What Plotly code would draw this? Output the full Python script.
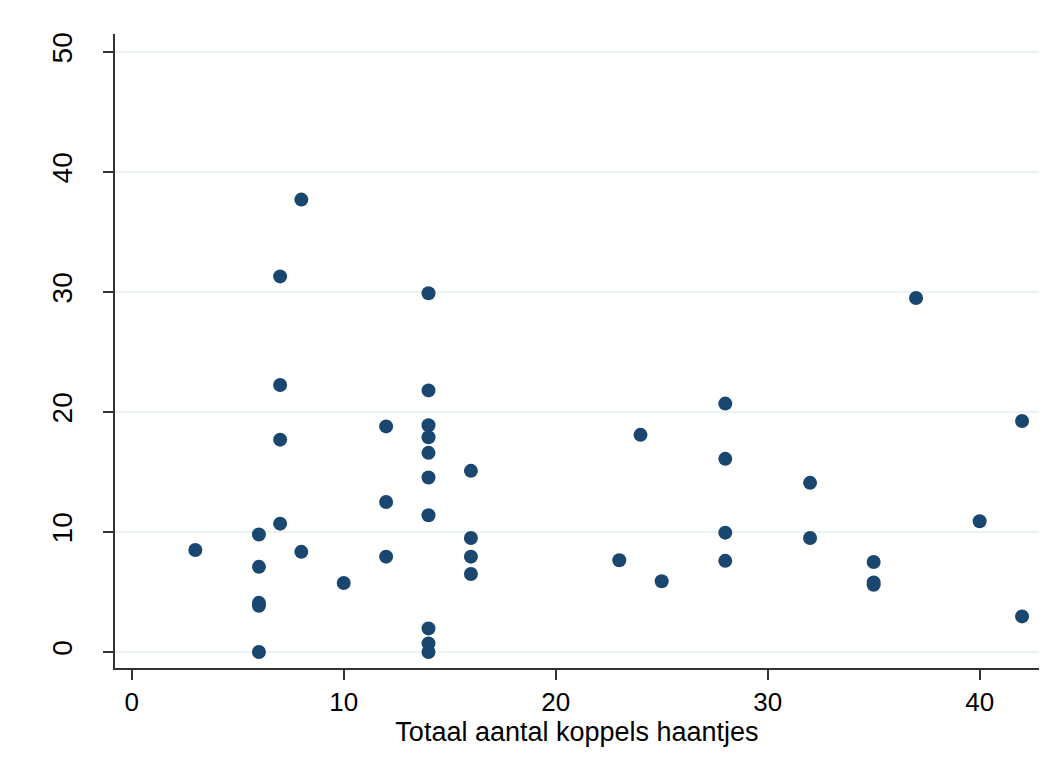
import plotly.graph_objects as go

# Data (x = Totaal aantal koppels haantjes)
x_vals = [3,
          6, 6, 6, 6, 6,
          7, 7, 7, 7,
          8, 8,
          10,
          12, 12, 12,
          14, 14, 14, 14, 14, 14, 14, 14, 14, 14,
          16, 16, 16, 16,
          23, 24, 25,
          28, 28, 28, 28,
          32, 32,
          35, 35, 35,
          37, 40,
          42, 42]
y_vals = [8.5,
          9.8, 7.1, 4.1, 3.85, 0.0,
          31.3, 22.25, 17.7, 10.7,
          37.7, 8.35,
          5.75,
          18.8, 12.5, 7.95,
          29.9, 21.8, 18.9, 17.9, 16.6, 14.55, 11.4, 1.97, 0.72, 0.0,
          15.1, 9.5, 7.95, 6.5,
          7.65, 18.1, 5.9,
          20.7, 16.1, 9.95, 7.6,
          14.1, 9.5,
          7.5, 5.8, 5.6,
          29.5, 10.9,
          19.25, 2.97]

x_ticks = [0, 10, 20, 30, 40]
y_ticks = [0, 10, 20, 30, 40, 50]
x_title = "Totaal aantal koppels haantjes"

fig = go.Figure()
fig.add_trace(go.Scatter(
    x=x_vals, y=y_vals, mode="markers",
    marker=dict(color="#1a476f", size=14, line=dict(width=0)),
    showlegend=False, hoverinfo="x+y",
))

FONT = "Liberation Sans, Arial, sans-serif"
xtick_font = dict(family=FONT, size=26, color="#000000")
ytick_font = dict(family=FONT, size=28, color="#000000")

fig.update_layout(
    width=1048, height=763,
    margin=dict(l=107, r=17, t=26, b=103, pad=0),
    paper_bgcolor="white", plot_bgcolor="white",
    font=xtick_font,
    xaxis=dict(
        range=[-0.79, 42.8], tickvals=x_ticks, ticktext=[str(v) for v in x_ticks],
        showgrid=False, zeroline=False,
        showline=True, linecolor="#333333", linewidth=1.5,
        ticks="outside", ticklen=10, tickwidth=1.5, tickcolor="#333333",
        tickfont=xtick_font,
        title=dict(text=x_title, font=dict(family=FONT, size=27, color="#000000"), standoff=3),
    ),
    yaxis=dict(
        range=[-1.33, 51.5], tickvals=y_ticks, ticktext=[str(v) for v in y_ticks],
        showgrid=True, gridcolor="#eaf2f3", gridwidth=2, zeroline=False,
        showline=True, linecolor="#333333", linewidth=1.5,
        ticks="outside", ticklen=10, tickwidth=1.5, tickcolor="#333333",
        tickangle=-90, tickfont=ytick_font, ticklabelstandoff=20,
    ),
)

fig.write_html("out.html")
